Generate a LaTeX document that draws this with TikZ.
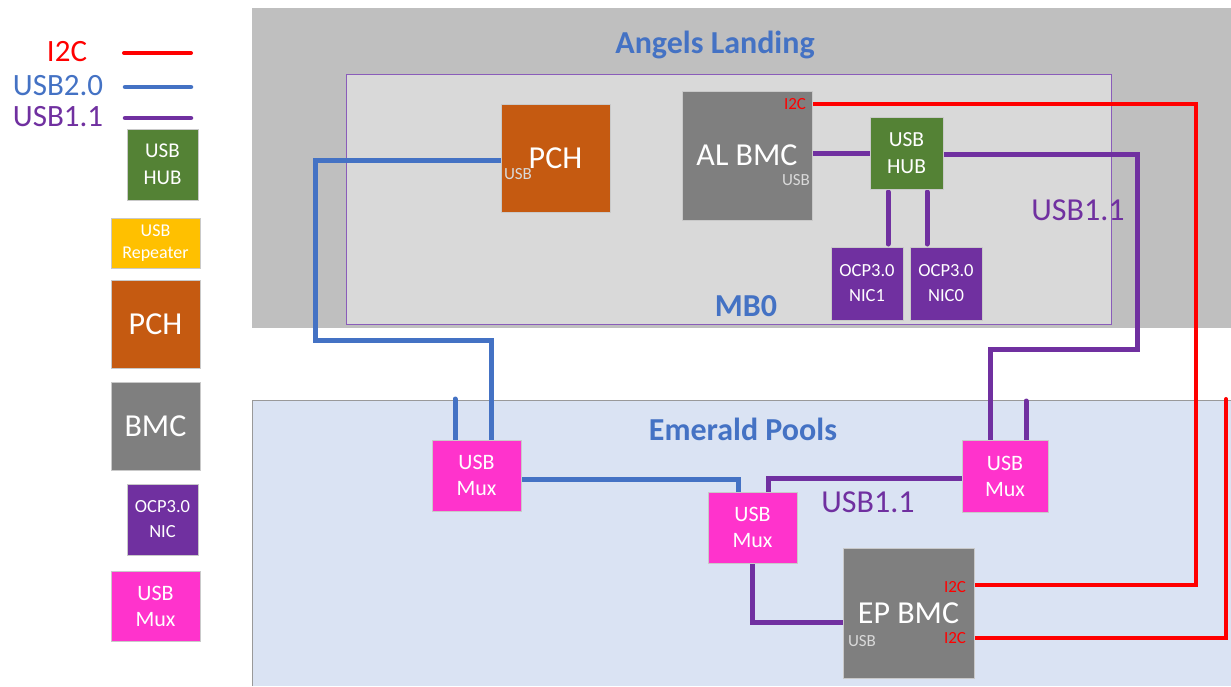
\documentclass[tikz,border=0pt]{standalone}
\usepackage{fontspec}
\setmainfont{Carlito}
\usetikzlibrary{backgrounds}

\definecolor{usbblue}{HTML}{4472C4}
\definecolor{usbpurple}{HTML}{7030A0}
\definecolor{itcred}{HTML}{FF0000}
\definecolor{algray}{HTML}{BFBFBF}
\definecolor{mbgray}{HTML}{D9D9D9}
\definecolor{epblue}{HTML}{DAE3F3}
\definecolor{pchorange}{HTML}{C55A11}
\definecolor{bmcgray}{HTML}{7F7F7F}
\definecolor{hubgreen}{HTML}{548235}
\definecolor{repyellow}{HTML}{FFC000}
\definecolor{muxpink}{HTML}{FF33CC}
\definecolor{boxline}{HTML}{C9C9C9}
\definecolor{mbline}{HTML}{8A5CBA}
\definecolor{portgray}{HTML}{D9D9D9}

\newcommand{\fsz}[2]{\fontsize{#1}{#2}\selectfont}

\tikzset{
  box/.style={draw=boxline, line width=0.8pt, inner sep=0pt, outer sep=0pt,
              text=white, align=center},
  wire/.style={line width=5pt, line cap=round},
  usbtwo/.style={wire, draw=usbblue},
  usbone/.style={wire, draw=usbpurple},
  itc/.style={wire, draw=itcred, line width=4pt},
  title/.style={text=usbblue, font=\fsz{32}{36}\bfseries, inner sep=0pt, anchor=base},
  port/.style={font=\fsz{17}{20}, inner sep=0pt, text=portgray},
  itcport/.style={font=\fsz{17}{20}, inner sep=0pt, text=itcred},
}

\begin{document}
\begin{tikzpicture}[x=1pt,y=-1pt]
\useasboundingbox (0,0) rectangle (1231,686);

% ---- board regions ----
\begin{scope}[on background layer]
  \fill[algray] (252,8) rectangle (1231,328);
  \filldraw[fill=mbgray, draw=mbline, line width=1pt] (346,74) rectangle (1111,324);
  \fill[epblue] (252,400) rectangle (1231,686);
  \draw[black!40, line width=1pt] (252,686) -- (252,400) -- (1231,400);
\end{scope}

\node[title] at (715,53) {Angels Landing};
\node[title] at (743,440) {Emerald Pools};
\node[title] at (746,316) {MB0};

% ---- Angels Landing components ----
\node[box, fill=pchorange, minimum width=109pt, minimum height=108pt, font=\fsz{32}{36}]
  (pch) at (555.5,158) {PCH};
\node[box, fill=bmcgray, minimum width=130pt, minimum height=129pt, font=\fsz{32}{36}]
  (albmc) at (747,155.5) {AL BMC};
\node[box, fill=hubgreen, minimum width=73pt, minimum height=72pt, font=\fsz{21.5}{27}]
  (hub) at (906.5,153) {USB\\HUB};
\node[box, fill=usbpurple, minimum width=72pt, minimum height=73pt, font=\fsz{18.5}{25}]
  (nic1) at (867,283.5) {OCP3.0\\NIC1};
\node[box, fill=usbpurple, minimum width=72pt, minimum height=73pt, font=\fsz{18.5}{25}]
  (nic0) at (946,283.5) {OCP3.0\\NIC0};

\node[port] at (518,174) {USB};
\node[port] at (796,180) {USB};
\node[itcport] at (795,104) {I2C};

\node[text=usbpurple, font=\fsz{32}{36}, inner sep=0pt, anchor=base] at (1078,220) {USB1.1};

% ---- Emerald Pools components ----
\node[box, fill=muxpink, minimum width=89pt, minimum height=71pt, font=\fsz{22}{26}]
  (mux1) at (476.5,475.5) {USB\\Mux};
\node[box, fill=muxpink, minimum width=89pt, minimum height=71pt, font=\fsz{22}{26}]
  (mux2) at (752.5,527.5) {USB\\Mux};
\node[box, fill=muxpink, minimum width=86pt, minimum height=72pt, font=\fsz{22}{26}]
  (mux3) at (1005,476) {USB\\Mux};
\node[box, fill=bmcgray, minimum width=131pt, minimum height=130pt, font=\fsz{32}{36}]
  (epbmc) at (908.5,613) {EP BMC};

\node[port] at (862,641) {USB};
\node[itcport] at (955,587) {I2C};
\node[itcport] at (955,638) {I2C};

\node[text=usbpurple, font=\fsz{32}{36}, inner sep=0pt, anchor=base] at (868,512) {USB1.1};

% ---- loose wire ends ----
\coordinate (bstub) at (455,399);
\coordinate (pstub) at (1026,401);
\coordinate (rtop)  at (1226,399);

% ---- connections ----
\begin{scope}[on background layer]
  % USB 2.0
  \draw[usbtwo] ([yshift=-2pt]pch.west) -| (315,340) -| ([xshift=14.5pt]mux1.north);
  \draw[usbtwo] (bstub) -- (bstub |- mux1.north);
  \draw[usbtwo] ([yshift=-3.5pt]mux1.east) -| ([xshift=-14.5pt]mux2.north);
  % USB 1.1
  \draw[usbone] (hub.west -| albmc.east) -- (hub.west);
  \draw[usbone] ([yshift=-1pt]hub.east) -| (1137,349) -| ([xshift=-15pt]mux3.north);
  \draw[usbone] (pstub) -- (pstub |- mux3.north);
  \draw[usbone] ([xshift=-18.5pt,yshift=-3pt]hub.south) -- ([xshift=-18.5pt,yshift=3pt]hub.south |- nic1.north);
  \draw[usbone] ([xshift=20.5pt,yshift=-3pt]hub.south) -- ([xshift=20.5pt,yshift=3pt]hub.south |- nic0.north);
  \draw[usbone] ([yshift=-2pt]mux3.west) -| ([xshift=16pt]mux2.north);
  \draw[usbone] (mux2.south) |- ([yshift=-9pt]epbmc.west);
  % I2C
  \draw[itc] ([yshift=51.5pt]albmc.east) -| (1196,585) -- ([yshift=28pt]epbmc.east);
  \draw[itc] ([yshift=-25pt]epbmc.east) -| (rtop);
\end{scope}

% ---- legend ----
\node[text=itcred,    font=\fsz{31}{36}, inner sep=0pt] (lgi2c) at (67,52)  {I2C};
\node[text=usbblue,   font=\fsz{31}{36}, inner sep=0pt] (lgu2)  at (58,86)  {USB2.0};
\node[text=usbpurple, font=\fsz{31}{36}, inner sep=0pt] (lgu1)  at (58,117) {USB1.1};
\draw[itc, line width=4pt] (124,53) -- (191,53);
\draw[usbtwo, line width=4.5pt] (125,87) -- (191,87);
\draw[usbone, line width=4.5pt] (125,118) -- (191,118);

\node[box, fill=hubgreen, minimum width=71pt, minimum height=71pt, font=\fsz{21}{27}]
  (lhub) at (162.5,164.5) {USB\\HUB};
\node[box, fill=repyellow, minimum width=89pt, minimum height=50pt, font=\fsz{18}{22}]
  (lrep) at (155.5,243) {USB\\Repeater};
\node[box, fill=pchorange, minimum width=89pt, minimum height=88pt, font=\fsz{32}{36}]
  (lpch) at (155.5,324) {PCH};
\node[box, fill=bmcgray, minimum width=89pt, minimum height=88pt, font=\fsz{32}{36}]
  (lbmc) at (155.5,426) {BMC};
\node[box, fill=usbpurple, minimum width=71pt, minimum height=71pt, font=\fsz{18.5}{25}]
  (lnic) at (162.5,519.5) {OCP3.0\\NIC};
\node[box, fill=muxpink, minimum width=89pt, minimum height=70pt, font=\fsz{22}{26}]
  (lmux) at (155.5,606) {USB\\Mux};
\end{tikzpicture}
\end{document}
